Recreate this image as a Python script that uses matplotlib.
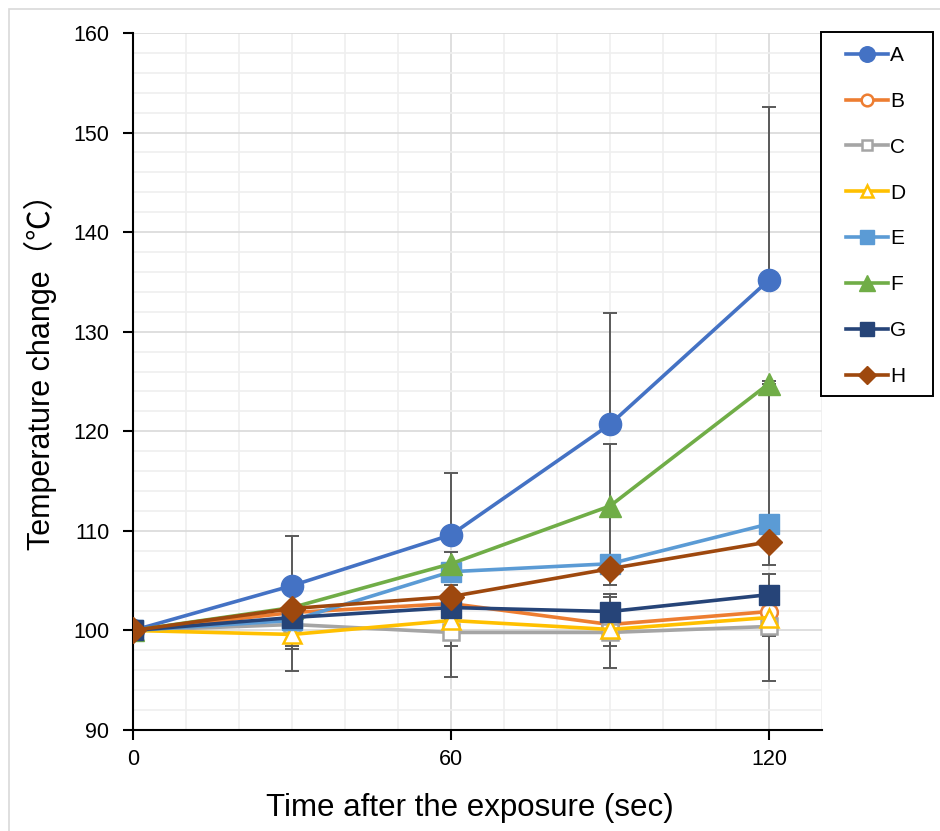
import numpy as np
import matplotlib
matplotlib.use('Agg')
import matplotlib.pyplot as plt
from matplotlib.patches import Rectangle

plt.rcParams['font.family'] = ['Liberation Sans', 'Noto Sans CJK JP', 'DejaVu Sans']

# ---- data ----
times = [0, 30, 60, 90, 120]
labels = ['A', 'B', 'C', 'D', 'E', 'F', 'G', 'H']

A = [100.0, 104.5, 109.6, 120.7, 135.2]
B = [100.0, 101.8, 102.7, 100.6, 101.9]
C = [100.0, 100.6, 99.8, 99.8, 100.4]
D = [100.0, 99.6, 101.0, 100.1, 101.3]
E = [100.0, 101.0, 105.9, 106.7, 110.7]
F = [100.0, 102.3, 106.7, 112.5, 124.8]
G = [100.0, 101.3, 102.3, 101.9, 103.6]
H = [100.0, 102.2, 103.4, 106.2, 108.9]

# error bars as (minus, plus) — only the visible halves
A_lo = [0, 0, 0, 0, 0];        A_hi = [0, 5.0, 6.2, 11.2, 17.4]
B_lo = [0, 0, 0, 1.6, 0];      B_hi = [0, 0, 0, 2.8, 0]
C_lo = [0, 2.5, 4.5, 3.6, 5.5]; C_hi = [0, 0, 0, 0, 0]
D_lo = [0, 1.2, 2.6, 1.7, 1.9]; D_hi = [0, 0, 0, 0, 0]
E_lo = [0, 5.1, 0, 0, 0];      E_hi = [0, 0, 0, 0, 14.4]
F_lo = [0, 0, 1.2, 6.2, 0];    F_hi = [0, 0, 1.2, 6.2, 0]
G_lo = [0, 0, 0, 0, 0];        G_hi = [0, 0, 2.3, 1.8, 2.1]
H_lo = [0, 0, 0, 1.6, 2.3];    H_hi = [0, 0, 0, 0, 0]

series = [
    (A, A_lo, A_hi, '#4472C4', 'o', 16, True),
    (B, B_lo, B_hi, '#ED7D31', 'o', 12, False),
    (C, C_lo, C_hi, '#A5A5A5', 's', 11, False),
    (D, D_lo, D_hi, '#FFC000', '^', 13, False),
    (E, E_lo, E_hi, '#5B9BD5', 's', 14, True),
    (F, F_lo, F_hi, '#70AD47', '^', 16, True),
    (G, G_lo, G_hi, '#264478', 's', 15, True),
    (H, H_lo, H_hi, '#9E480E', 'D', 13, True),
]

fig = plt.figure(figsize=(9.4, 8.31), dpi=100)
ax = fig.add_axes([0.1415, 0.1215, 0.733, 0.8388])

# chart-area frame (Excel style)
fig.patches.append(Rectangle((9 / 940, -0.01), 1.0, 1 - 9 / 831 + 0.01,
                             transform=fig.transFigure, fill=False,
                             edgecolor='#d9d9d9', lw=1.2))
# legend frame
fig.patches.append(Rectangle((821 / 940, 1 - 396 / 831), 112 / 940, 364 / 831,
                             transform=fig.transFigure, facecolor='white',
                             edgecolor='black', lw=1.4, zorder=4))

# error bars below all lines
for vals, lo, hi, color, mk, ms, filled in series:
    ax.errorbar(times, vals, yerr=[lo, hi], fmt='none', ecolor='#595959',
                elinewidth=1.4, capsize=5, capthick=1.4, zorder=2)

handles = []
for (vals, lo, hi, color, mk, ms, filled), lab in zip(series, labels):
    h, = ax.plot(times, vals, color=color, lw=2.6, marker=mk, markersize=ms,
                 markerfacecolor=color if filled else 'white',
                 markeredgecolor=color, markeredgewidth=1.8 if not filled else 1,
                 label=lab, zorder=3)
    handles.append(h)

ax.set_xlim(0, 130)
ax.set_ylim(90, 160)
ax.set_xticks([0, 60, 120])
ax.set_xticks(np.arange(0, 131, 10), minor=True)
ax.set_yticks(np.arange(90, 161, 10))
ax.set_yticks(np.arange(90, 161, 2), minor=True)

ax.grid(True, which='major', color='#d9d9d9', lw=1.2, zorder=0)
ax.grid(True, which='minor', color='#efefef', lw=1.2, zorder=0)
ax.set_axisbelow(True)

for s in ['top', 'right']:
    ax.spines[s].set_visible(False)
for s in ['left', 'bottom']:
    ax.spines[s].set_color('black')
    ax.spines[s].set_linewidth(1.5)

ax.tick_params(which='major', direction='out', length=7, width=1.5,
               labelsize=15.5, colors='black', pad=7)
ax.tick_params(axis='y', which='major', pad=10)
ax.tick_params(which='minor', length=0)

ax.set_xlabel('Time after the exposure (sec)', fontsize=22.5)
ax.xaxis.set_label_coords(0.489, -0.090)
ax.set_ylabel('Temperature change（℃）', fontsize=22)
ax.yaxis.set_label_coords(-0.110, 0.525)

leg = fig.legend(handles=handles, loc='upper left',
                 bbox_to_anchor=(846 / 940, 1 - 46 / 831),
                 frameon=False, fontsize=15,
                 handlelength=2.0, handletextpad=0.12, labelspacing=1.29,
                 borderpad=0, markerscale=0.7, borderaxespad=0)
leg.set_zorder(5)

fig.savefig('out.png', dpi=100)
